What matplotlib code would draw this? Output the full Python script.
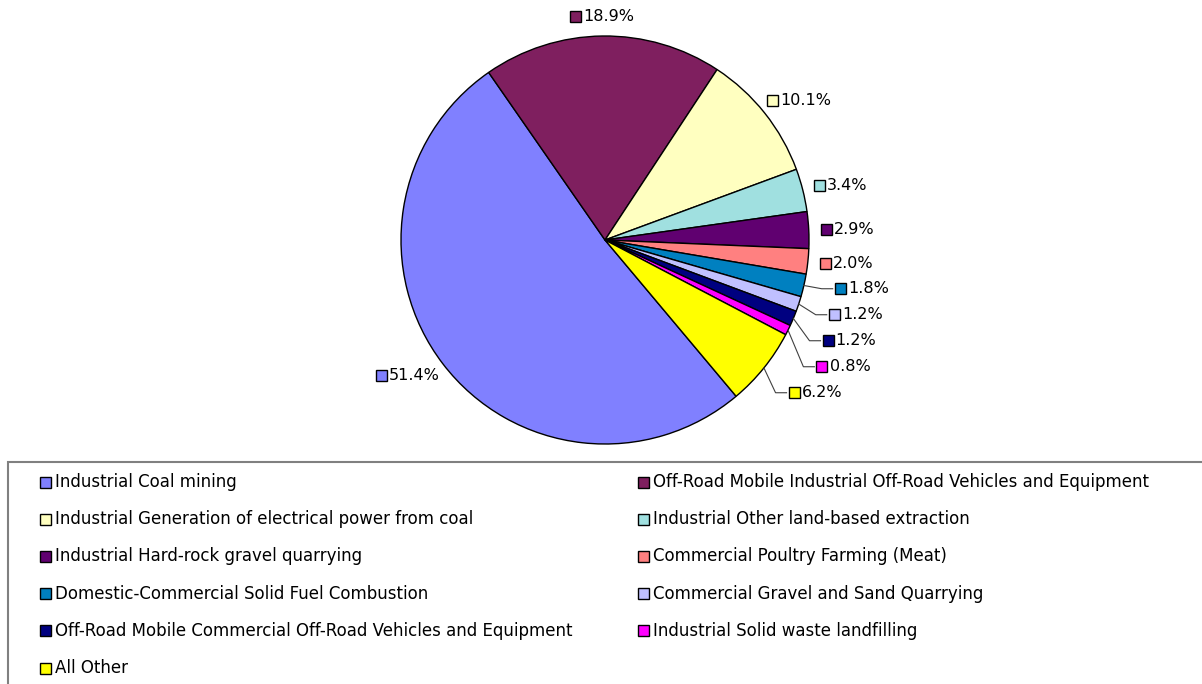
import numpy as np
import matplotlib
matplotlib.use('Agg')
import matplotlib.pyplot as plt
from matplotlib.patches import Rectangle
from matplotlib.offsetbox import DrawingArea, TextArea, HPacker, AnnotationBbox

plt.rcParams['font.family'] = ['DejaVu Sans']

categories = [
    'Industrial Coal mining',
    'Off-Road Mobile Industrial Off-Road Vehicles and Equipment',
    'Industrial Generation of electrical power from coal',
    'Industrial Other land-based extraction',
    'Industrial Hard-rock gravel quarrying',
    'Commercial Poultry Farming (Meat)',
    'Domestic-Commercial Solid Fuel Combustion',
    'Commercial Gravel and Sand Quarrying',
    'Off-Road Mobile Commercial Off-Road Vehicles and Equipment',
    'Industrial Solid waste landfilling',
    'All Other',
]
shares = [51.4, 18.9, 10.1, 3.4, 2.9, 2.0, 1.8, 1.2, 1.2, 0.8, 6.2]
colors = ['#8080FF', '#7F1F5F', '#FFFFC0', '#A0E0E0', '#600070', '#FF8080',
          '#0080C0', '#C0C0FF', '#000080', '#FF00FF', '#FFFF00']

W, H = 1202, 684
fig = plt.figure(figsize=(W / 100, H / 100), dpi=100)

# background axes in pixel units for the legend box
bg = fig.add_axes([0, 0, 1, 1])
bg.set_xlim(0, W)
bg.set_ylim(H, 0)
bg.axis('off')

# pie axes: center (605, 240) px, radius 204 px
R = 204
cx, cy = 605, 240
half = 1.5 * R
ax = fig.add_axes([(cx - half) / W, (H - cy - half) / H, 2 * half / W, 2 * half / H])
wedges, _ = ax.pie(shares, colors=colors, startangle=-50, counterclock=False,
                   wedgeprops=dict(edgecolor='black', linewidth=1.0))
ax.set_xlim(-1.5, 1.5)
ax.set_ylim(-1.5, 1.5)
ax.axis('off')

px = 1.0 / R  # one pixel in data units


def label_box(text, color):
    da = DrawingArea(8, 8, 0, 0)
    da.add_artist(Rectangle((0, 0), 8, 8, facecolor=color, edgecolor='black', linewidth=1.0))
    ta = TextArea(text, textprops=dict(size=11.5, color='black'))
    return HPacker(children=[da, ta], align='center', pad=0, sep=1.5)


mids = [np.deg2rad((w.theta1 + w.theta2) / 2) for w in wedges]

# right-side labels going clockwise, pushed down so they do not overlap
gap = 26 * px
prev_y = None
for i, (w, th) in enumerate(zip(wedges, mids)):
    c, s = np.cos(th), np.sin(th)
    txt = f'{shares[i]:.1f}%'
    r0 = 1.06
    nx, ny = r0 * c, r0 * s
    pushed = False
    if c > 0.3 and s < 0.3 and prev_y is not None:
        if ny > prev_y - gap:
            ny = prev_y - gap
            pushed = True
    if c > 0.3:
        prev_y = ny
    if pushed:
        lx = 1.155 * c
        ax.plot([c, lx - 13 * px, lx - 2 * px], [s, ny, ny], color='#404040', lw=0.8,
                clip_on=False)
        ab = AnnotationBbox(label_box(txt, colors[i]), (lx, ny), xycoords='data',
                            frameon=False, box_alignment=(0, 0.5), pad=0)
    else:
        ab = AnnotationBbox(label_box(txt, colors[i]), (nx, ny), xycoords='data',
                            frameon=False, box_alignment=((1 - c) / 2, (1 - s) / 2), pad=0)
    ab.set_clip_on(False)
    ax.add_artist(ab)

# legend box, row by row in two columns
bg.add_patch(Rectangle((8, 462), W, 300, facecolor='white', edgecolor='#808080',
                       linewidth=1.5, clip_on=False))
row_y0, row_step = 482, 37.2
col_x = [40, 638]
for k, (name, col) in enumerate(zip(categories, colors)):
    row, cidx = divmod(k, 2)
    y = row_y0 + row * row_step
    x = col_x[cidx]
    bg.add_patch(Rectangle((x, y - 5.5), 11, 11, facecolor=col, edgecolor='black', linewidth=1.0))
    bg.text(x + 15, y, name, fontsize=12, va='center', ha='left', color='black')

fig.savefig('out.png', dpi=100)
